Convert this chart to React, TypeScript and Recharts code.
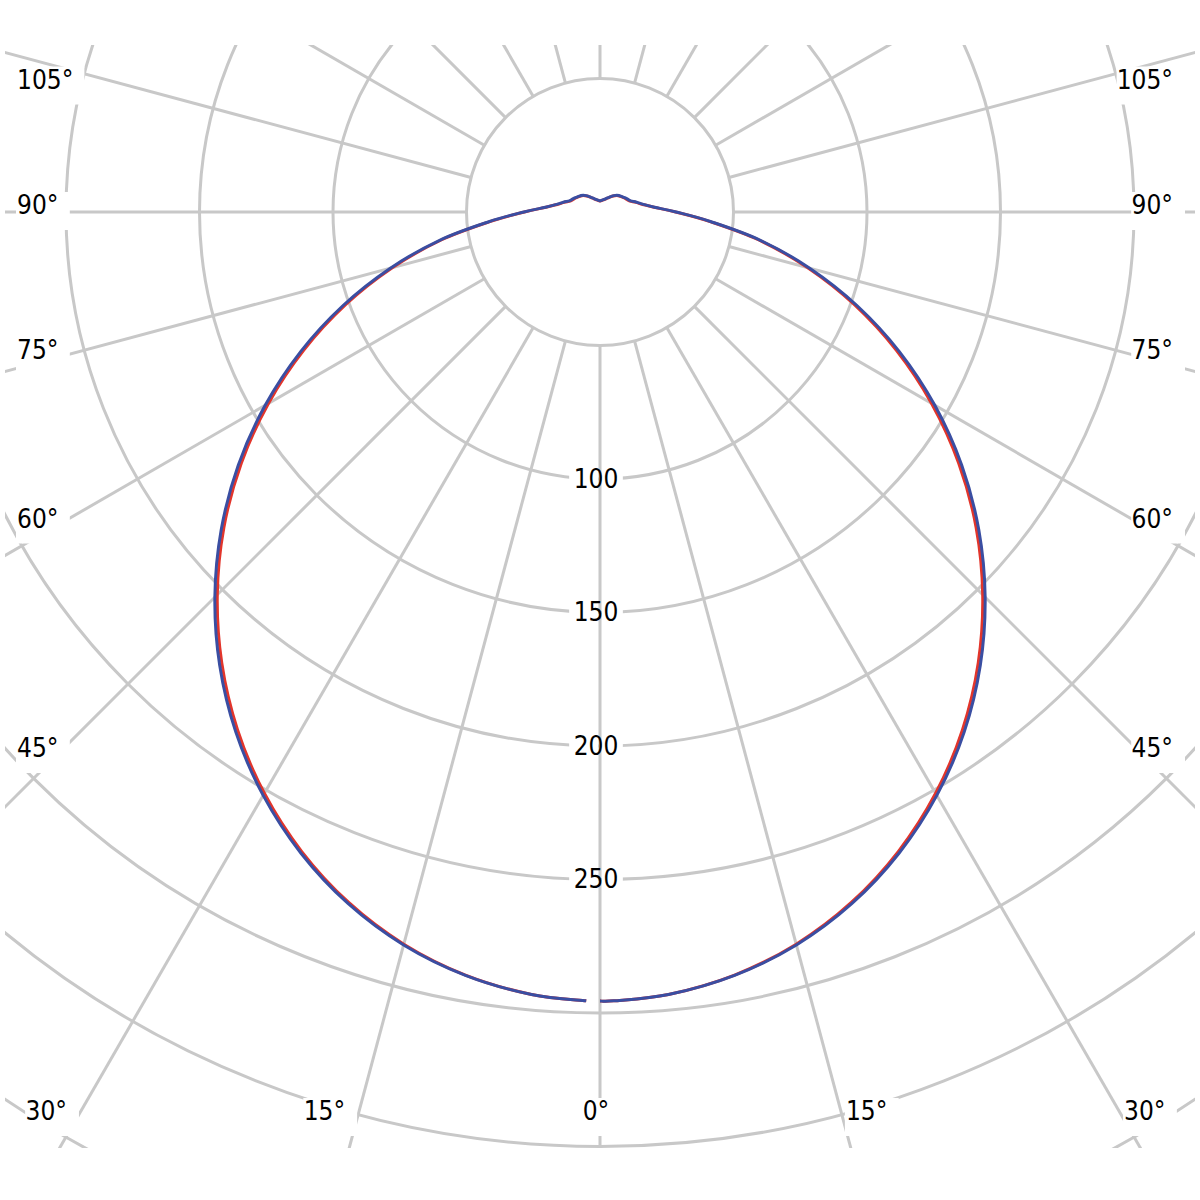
import React from 'react';
import { RadarChart, PolarGrid, PolarAngleAxis, PolarRadiusAxis, Radar } from 'recharts';

// photometric angle gamma in degrees: 0 = straight down, 180 = straight up (one half-plane)
const GAMMA = [
  0, 1, 5, 10, 15, 20, 25, 30, 35, 40, 45, 50, 55, 60, 65, 70, 75, 80, 85, 90,
  95, 100, 105, 110, 115, 120, 125, 130, 135, 140, 145, 150, 155, 160, 165, 170, 175, 180,
];

// C0-C180 plane (red), cd/klm
const PLANE_C0 = [
  295.5, 295.5, 294.2, 290.2, 283.9, 275.2, 264.3, 251.4, 236.7, 220.4, 202.7, 183.9, 164.0, 143.4,
  122.4, 101.3, 80.4, 60.4, 41.4, 28.3, 20.3, 16.3, 13.9, 11.9, 11.1, 10.5, 9.9, 9.3, 8.7, 7.8, 6.9,
  6.1, 5.5, 5.0, 4.7, 4.4, 4.2, 4.1,
];

// C90-C270 plane (blue), cd/klm
const PLANE_C90 = [
  295.5, 295.5, 294.2, 290.3, 284.2, 275.7, 265.0, 252.3, 237.8, 221.6, 204.0, 185.2, 165.4, 144.8,
  123.7, 102.4, 81.3, 61.0, 41.8, 28.5, 20.5, 16.5, 14.2, 12.2, 11.4, 10.7, 10.1, 9.5, 8.9, 8.0, 7.0,
  6.2, 5.6, 5.1, 4.8, 4.5, 4.3, 4.2,
];

const RADIUS_CIRCLES = [50, 100, 150, 200, 250, 300, 350, 400];
const RADIUS_LABELS = [100, 150, 200, 250];
const GRID_GAMMA = [0, 15, 30, 45, 60, 75, 90, 105, 120, 135, 150, 165, 180, 195, 210, 225, 240, 255, 270, 285, 300, 315, 330, 345];
const ANGLE_LABELS = [0, 15, 30, 45, 60, 75, 90, 105];

const RED = '#e2352b';
const BLUE = '#3a4ea2';
const GRID = '#c8c8c8';
const FONT = "'DejaVu Sans Condensed', 'DejaVu Sans', sans-serif";
const FS = 26;

// layout (the plot is clipped to this box, pole near the top)
const W = 1190;
const H = 1103;
const CX = 595;
const CY = 167;
const R_MIN = 50;
const R_MAX = 450;
const INNER = 133.5;
const OUTER = 1201.5;

// right half runs 0 -> 180, left half 180 -> 359 (curve left open at the bottom)
const rows: { angle: number; red: number; blue: number }[] = [];
GAMMA.forEach((g, i) => rows.push({ angle: g, red: PLANE_C0[i], blue: PLANE_C90[i] }));
for (let i = GAMMA.length - 2; i >= 1; i--) {
  rows.push({ angle: 360 - GAMMA[i], red: PLANE_C0[i], blue: PLANE_C90[i] });
}

const circleRadii = RADIUS_CIRCLES.map((v) => INNER + ((v - R_MIN) / (R_MAX - R_MIN)) * (OUTER - INNER));
const gridAngles = GRID_GAMMA.map((g) => g - 90);

const textWidth = (s: string) => {
  let w = 0;
  for (const ch of s) w += ch === '°' ? 0.45 * FS : 0.56 * FS;
  return w;
};

// open, smoothed curve through the radar points
function SmoothCurve(props: any) {
  const { points, stroke, strokeWidth } = props;
  const pts = (points || []).filter((p: any) => Number.isFinite(p.x) && Number.isFinite(p.y));
  if (pts.length < 2) return null;
  let d = `M${pts[0].x},${pts[0].y}`;
  for (let i = 0; i < pts.length - 1; i++) {
    const p0 = pts[i - 1] || pts[i];
    const p1 = pts[i];
    const p2 = pts[i + 1];
    const p3 = pts[i + 2] || p2;
    const c1x = p1.x + (p2.x - p0.x) / 6;
    const c1y = p1.y + (p2.y - p0.y) / 6;
    const c2x = p2.x - (p3.x - p1.x) / 6;
    const c2y = p2.y - (p3.y - p1.y) / 6;
    d += ` C${c1x},${c1y} ${c2x},${c2y} ${p2.x},${p2.y}`;
  }
  return <path d={d} fill="none" stroke={stroke} strokeWidth={strokeWidth} strokeLinejoin="round" />;
}

function AngleTick(props: any) {
  const { x, y, payload } = props;
  const g = Math.round(Number(payload?.value));
  if (g >= 360) return null;
  const d = g > 180 ? 360 - g : g;
  if (!ANGLE_LABELS.includes(d)) return null;
  const dx = x - CX;
  const dy = y - CY;
  const len = Math.hypot(dx, dy) || 1;
  const ux = dx / len;
  const uy = dy / len;
  const label = `${d}°`;
  const w = textWidth(label);
  let tx = 0;
  let ty = 0;
  let anchor: 'start' | 'middle' | 'end' = 'start';
  if (d < 45) {
    ty = 1066;
    const lineX = CX + (ux * (ty - CY)) / uy;
    if (d === 0) {
      tx = lineX - 4;
      anchor = 'middle';
    } else if (ux < 0) {
      tx = lineX - 14;
      anchor = 'end';
    } else {
      tx = lineX + 5;
      anchor = 'start';
    }
  } else {
    const xLine = ux < 0 ? 52 : 1138;
    const lineY = CY + (uy * (xLine - CX)) / ux;
    ty = d <= 90 ? lineY - 7 : lineY + 13;
    tx = ux < 0 ? 12 : 1168;
    anchor = ux < 0 ? 'start' : 'end';
  }
  const left = anchor === 'start' ? tx : anchor === 'end' ? tx - w : tx - w / 2;
  return (
    <g>
      <rect x={left - 1} y={ty - 13} width={w + 13} height={38} fill="#fff" />
      <text x={tx} y={ty + 9} textAnchor={anchor} fontSize={FS} fontFamily={FONT} fill="#000">
        {label}
      </text>
    </g>
  );
}

function RadiusTick(props: any) {
  const { x, y, payload } = props;
  const v = Number(payload?.value);
  if (!RADIUS_LABELS.includes(v)) return null;
  const label = String(v);
  const w = textWidth(label);
  const cxText = x - 4;
  return (
    <g>
      <rect x={cxText - w / 2 - 5} y={y - 13} width={x - 2 - (cxText - w / 2 - 5)} height={26} fill="#fff" />
      <rect x={x + 2} y={y - 13} width={cxText + w / 2 + 5 - (x + 2)} height={26} fill="#fff" />
      <text x={cxText} y={y + 8.5} textAnchor="middle" fontSize={FS} fontFamily={FONT} fill="#000">
        {label}
      </text>
    </g>
  );
}

export default function App() {
  return (
    <div
      style={{
        position: 'absolute',
        left: 5,
        top: 45,
        width: W,
        height: H,
        overflow: 'hidden',
        background: '#fff',
      }}
    >
      <RadarChart
        width={W}
        height={H}
        data={rows}
        cx={CX}
        cy={CY}
        innerRadius={INNER}
        outerRadius={OUTER}
        startAngle={-90}
        endAngle={270}
        margin={{ top: 0, right: 0, bottom: 0, left: 0 }}
      >
        <PolarGrid
          gridType="circle"
          polarRadius={circleRadii}
          polarAngles={gridAngles}
          stroke={GRID}
          strokeWidth={3}
        />
        <PolarAngleAxis
          dataKey="angle"
          type="number"
          domain={[0, 360]}
          tickCount={25}
          axisLine={false}
          tickLine={false}
          tick={<AngleTick />}
        />
        <PolarRadiusAxis
          angle={-90}
          type="number"
          domain={[R_MIN, R_MAX]}
          allowDataOverflow
          tickCount={9}
          axisLine={false}
          tickLine={false}
          tick={<RadiusTick />}
        />
        <Radar
          dataKey="red"
          stroke={RED}
          strokeWidth={3}
          fill="none"
          dot={false}
          isAnimationActive={false}
          shape={(p: any) => <SmoothCurve {...p} />}
        />
        <Radar
          dataKey="blue"
          stroke={BLUE}
          strokeWidth={3}
          fill="none"
          dot={false}
          isAnimationActive={false}
          shape={(p: any) => <SmoothCurve {...p} />}
        />
      </RadarChart>
    </div>
  );
}
